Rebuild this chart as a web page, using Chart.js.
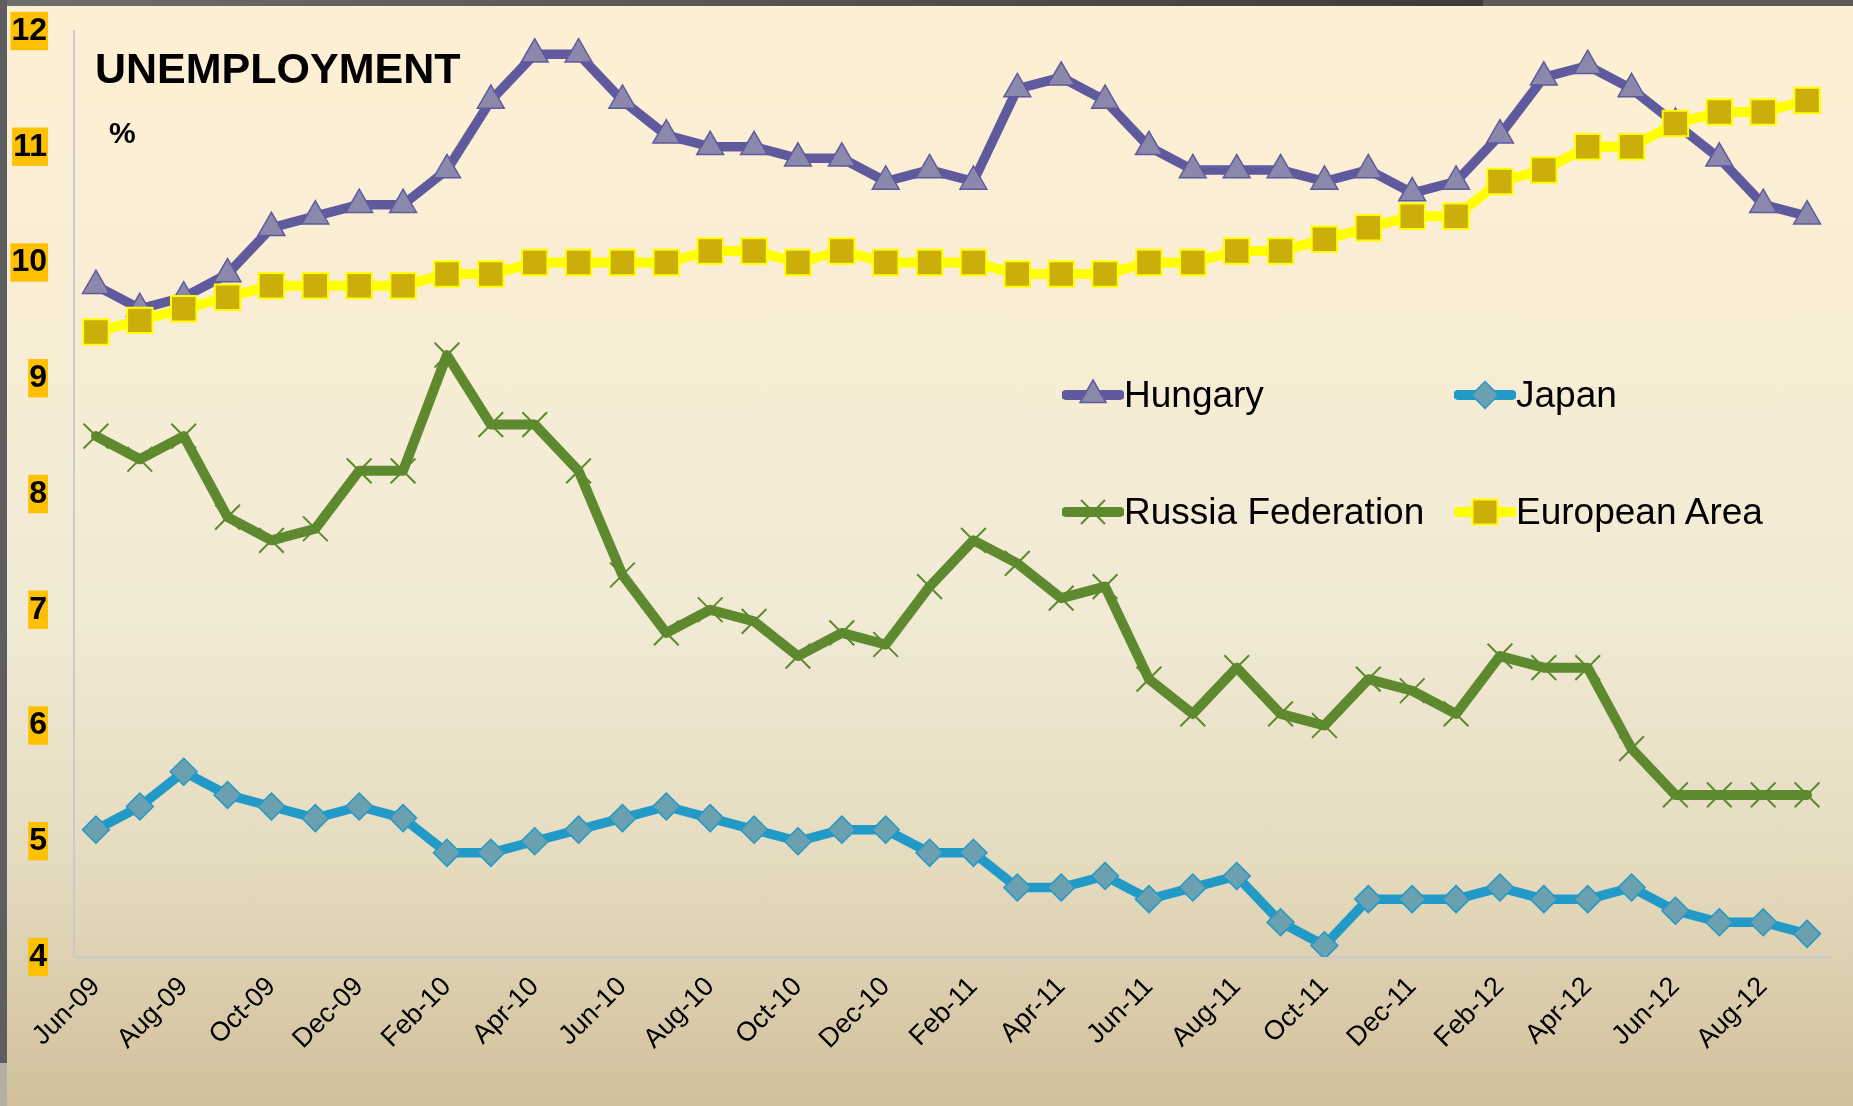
<!DOCTYPE html>
<html lang="en">

<head>
    <meta charset="UTF-8">
    <title>Unemployment</title>
    <script src="https://cdn.jsdelivr.net/npm/chart.js"></script>
    <style>
        body {
            margin: 0;
            overflow: hidden;
            font-family: "Liberation Sans", Arial, sans-serif;
        }

        #wrap {
            position: relative;
            width: 1853px;
            height: 1106px;
            background: linear-gradient(to bottom, #FEF0D4 0%, #F7EDD5 35%, #F1EAD5 55%, #E5DBBF 78%, #D1C19C 100%);
        }

        .item {
            position: absolute;
            display: flex;
            align-items: center;
            height: 36px;
            font-size: 37px;
            line-height: 36px;
            color: #000;
            white-space: nowrap;
        }
    </style>
</head>

<body>
    <div id="wrap">
        <div style="position: absolute; left: 0; top: 0; width: 1853px; height: 1106px;">
            <canvas id="myChart"></canvas>
        </div>

        <div style="position: absolute; left: 95px; top: 47px; font-size: 43px; line-height: 1; font-weight: bold;">UNEMPLOYMENT</div>
        <div style="position: absolute; left: 109px; top: 118px; font-size: 30px; line-height: 1; font-weight: bold;">%</div>

        <div class="item" style="left: 1062px; top: 377px;">
            <svg width="62" height="36"><line x1="4" y1="18" x2="58" y2="18" stroke="#5F5A9E" stroke-width="10" stroke-linecap="round" /><polygon points="31,3 44,25.5 18,25.5" fill="#8C88AB" stroke="#5F5A9E" stroke-width="1.5" /></svg>
            <span>Hungary</span>
        </div>
        <div class="item" style="left: 1454px; top: 377px;">
            <svg width="62" height="36"><line x1="4" y1="18" x2="58" y2="18" stroke="#229AC7" stroke-width="10" stroke-linecap="round" /><polygon points="31,4.5 44.5,18 31,31.5 17.5,18" fill="#6BA0B1" stroke="#229AC7" stroke-width="1.5" /></svg>
            <span>Japan</span>
        </div>
        <div class="item" style="left: 1062px; top: 494px;">
            <svg width="62" height="36"><line x1="4" y1="18" x2="58" y2="18" stroke="#5E892E" stroke-width="10" stroke-linecap="round" /><path d="M19,6 L43,30 M43,6 L19,30" stroke="#5E892E" stroke-width="2" /></svg>
            <span>Russia Federation</span>
        </div>
        <div class="item" style="left: 1454px; top: 494px;">
            <svg width="62" height="36"><line x1="4" y1="18" x2="58" y2="18" stroke="#FFFF00" stroke-width="10" stroke-linecap="round" /><rect x="18.5" y="5.5" width="25" height="25" fill="#CCAE0A" stroke="#FFFF00" stroke-width="2" /></svg>
            <span>European Area</span>
        </div>

        <!-- dark frame of the slide -->
        <div style="position: absolute; left: 0; top: 0; width: 1483px; height: 6px; background: linear-gradient(to right, #6E6E6E, #3C3C3C);"></div>
        <div style="position: absolute; left: 1483px; top: 0; width: 370px; height: 6px; background: #5A5A5A;"></div>
        <div style="position: absolute; left: 0; top: 0; width: 7px; height: 1063px; background: #5E5E5E;"></div>
        <div style="position: absolute; left: 0; top: 1063px; width: 7px; height: 43px; background: #B4B0A6;"></div>
    </div>
</body>
<script>
    const months = ['Jun-09', 'Jul-09', 'Aug-09', 'Sep-09', 'Oct-09', 'Nov-09', 'Dec-09',
        'Jan-10', 'Feb-10', 'Mar-10', 'Apr-10', 'May-10', 'Jun-10', 'Jul-10', 'Aug-10', 'Sep-10', 'Oct-10', 'Nov-10', 'Dec-10',
        'Jan-11', 'Feb-11', 'Mar-11', 'Apr-11', 'May-11', 'Jun-11', 'Jul-11', 'Aug-11', 'Sep-11', 'Oct-11', 'Nov-11', 'Dec-11',
        'Jan-12', 'Feb-12', 'Mar-12', 'Apr-12', 'May-12', 'Jun-12', 'Jul-12', 'Aug-12', 'Sep-12'];

    const hungary = [9.8, 9.6, 9.7, 9.9, 10.3, 10.4, 10.5, 10.5, 10.8, 11.4, 11.8, 11.8, 11.4, 11.1, 11.0, 11.0, 10.9, 10.9, 10.7, 10.8,
        10.7, 11.5, 11.6, 11.4, 11.0, 10.8, 10.8, 10.8, 10.7, 10.8, 10.6, 10.7, 11.1, 11.6, 11.7, 11.5, 11.2, 10.9, 10.5, 10.4];
    const japan = [5.1, 5.3, 5.6, 5.4, 5.3, 5.2, 5.3, 5.2, 4.9, 4.9, 5.0, 5.1, 5.2, 5.3, 5.2, 5.1, 5.0, 5.1, 5.1, 4.9,
        4.9, 4.6, 4.6, 4.7, 4.5, 4.6, 4.7, 4.3, 4.1, 4.5, 4.5, 4.5, 4.6, 4.5, 4.5, 4.6, 4.4, 4.3, 4.3, 4.2];
    const russia = [8.5, 8.3, 8.5, 7.8, 7.6, 7.7, 8.2, 8.2, 9.2, 8.6, 8.6, 8.2, 7.3, 6.8, 7.0, 6.9, 6.6, 6.8, 6.7, 7.2,
        7.6, 7.4, 7.1, 7.2, 6.4, 6.1, 6.5, 6.1, 6.0, 6.4, 6.3, 6.1, 6.6, 6.5, 6.5, 5.8, 5.4, 5.4, 5.4, 5.4];
    const euroArea = [9.4, 9.5, 9.6, 9.7, 9.8, 9.8, 9.8, 9.8, 9.9, 9.9, 10.0, 10.0, 10.0, 10.0, 10.1, 10.1, 10.0, 10.1, 10.0, 10.0,
        10.0, 9.9, 9.9, 9.9, 10.0, 10.0, 10.1, 10.1, 10.2, 10.3, 10.4, 10.4, 10.7, 10.8, 11.0, 11.0, 11.2, 11.3, 11.3, 11.4];

    const yMin = 4;
    const yMax = 12;
    const fontFamily = '"Liberation Sans", Arial, sans-serif';

    function createChart() {
        const ctx = document.getElementById('myChart').getContext('2d');
        new Chart(ctx, {
            type: 'line',
            data: {
                labels: months,
                datasets: [
                    {
                        label: 'Hungary',
                        data: hungary,
                        order: 4,
                        borderColor: '#5F5A9E',
                        borderWidth: 9.5,
                        pointStyle: 'triangle',
                        pointRadius: 15.5,
                        pointBackgroundColor: '#8C88AB',
                        pointBorderColor: '#5F5A9E',
                        pointBorderWidth: 1.5
                    },
                    {
                        label: 'Japan',
                        data: japan,
                        order: 3,
                        borderColor: '#229AC7',
                        borderWidth: 9.5,
                        pointStyle: 'rectRot',
                        pointRadius: 13.5,
                        pointBackgroundColor: '#6BA0B1',
                        pointBorderColor: '#229AC7',
                        pointBorderWidth: 1.5
                    },
                    {
                        label: 'Russia Federation',
                        data: russia,
                        order: 2,
                        borderColor: '#5E892E',
                        borderWidth: 10,
                        pointStyle: 'crossRot',
                        pointRadius: 17.5,
                        pointBorderColor: '#5E892E',
                        pointBorderWidth: 2
                    },
                    {
                        label: 'European Area',
                        data: euroArea,
                        order: 1,
                        borderColor: '#FFFF00',
                        borderWidth: 10,
                        pointStyle: 'rect',
                        pointRadius: 18,
                        pointBackgroundColor: '#CCAE0A',
                        pointBorderColor: '#FFFF00',
                        pointBorderWidth: 2
                    }
                ]
            },
            options: {
                responsive: true,
                maintainAspectRatio: false,
                animation: false,
                events: [],
                elements: {
                    line: { tension: 0, borderJoinStyle: 'round', borderCapStyle: 'round' }
                },
                layout: { padding: { top: 31, right: 24, left: 0, bottom: 0 } },
                plugins: {
                    legend: { display: false },
                    tooltip: { enabled: false }
                },
                scales: {
                    x: {
                        offset: true,
                        grid: { display: false, drawTicks: false },
                        border: { display: true, color: '#C9C9CE', width: 2 },
                        ticks: {
                            autoSkip: false,
                            minRotation: 45,
                            maxRotation: 45,
                            padding: 14,
                            color: '#000',
                            font: { family: fontFamily, size: 27 },
                            callback: function (value, index) {
                                return index % 2 === 0 ? this.getLabelForValue(value) : '';
                            }
                        },
                        afterFit: function (scale) { scale.height = 149; }
                    },
                    y: {
                        min: yMin,
                        max: yMax,
                        grid: { display: false, drawTicks: false },
                        border: { display: true, color: '#C9C9CE', width: 2 },
                        ticks: {
                            stepSize: 1,
                            padding: 27,
                            color: '#000',
                            font: { family: fontFamily, size: 32, weight: 'bold' },
                            showLabelBackdrop: true,
                            backdropColor: '#FFC000',
                            backdropPadding: { top: 0, bottom: 0, left: 1, right: 1 }
                        },
                        afterFit: function (scale) {
                            // fixed axis width, and no extra room above the top label
                            scale.width = 74;
                            scale.paddingTop = 0;
                            scale.paddingBottom = 0;
                        }
                    }
                }
            }
        });
    }

    createChart();
</script>

</html>
